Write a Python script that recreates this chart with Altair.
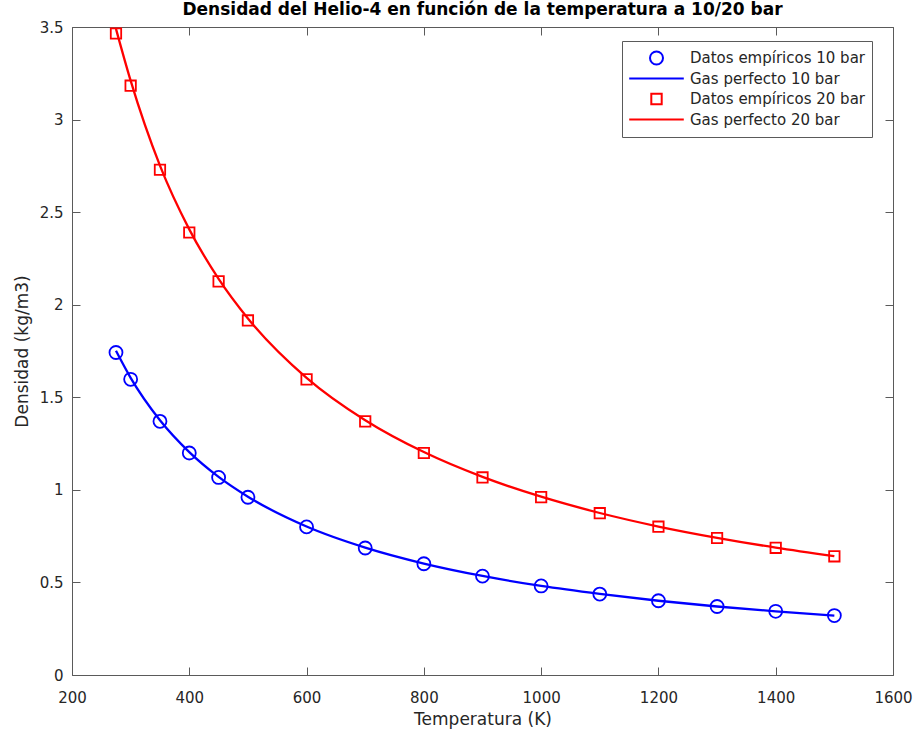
import altair as alt
import pandas as pd

# Temperatura (K) de cada medida
temperatura = [275, 300, 350, 400, 450, 500, 600, 700, 800, 900, 1000, 1100, 1200, 1300, 1400, 1500]

# Densidad medida (kg/m3)
emp_10 = [1.742, 1.597, 1.370, 1.199, 1.067, 0.960, 0.800, 0.686, 0.601, 0.534, 0.481, 0.437, 0.401, 0.370, 0.344, 0.321]
emp_20 = [3.465, 3.183, 2.729, 2.390, 2.126, 1.915, 1.597, 1.370, 1.199, 1.067, 0.961, 0.874, 0.801, 0.740, 0.687, 0.641]

# Densidad del gas perfecto (kg/m3)
gas_10 = [1.751, 1.605, 1.376, 1.204, 1.070, 0.963, 0.802, 0.688, 0.602, 0.535, 0.481, 0.438, 0.401, 0.370, 0.344, 0.321]
gas_20 = [3.490, 3.210, 2.751, 2.407, 2.140, 1.926, 1.605, 1.376, 1.204, 1.070, 0.963, 0.875, 0.802, 0.741, 0.688, 0.642]

series = ["Datos empíricos 10 bar", "Gas perfecto 10 bar",
          "Datos empíricos 20 bar", "Gas perfecto 20 bar"]
colores = ["#0000ff", "#0000ff", "#ff0000", "#ff0000"]

# Símbolos: círculo, tramo de línea, cuadrado (trayectos en unidades del radio)
LINEA = "M-4.2,0L4.2,0"
CUADRADO = "M-0.8,-0.8L0.8,-0.8L0.8,0.8L-0.8,0.8Z"
formas = ["circle", LINEA, CUADRADO, LINEA]

x_ticks = [200, 400, 600, 800, 1000, 1200, 1400, 1600]
y_ticks = [0, 0.5, 1, 1.5, 2, 2.5, 3, 3.5]

n = len(temperatura)
puntos = pd.DataFrame({
    "T": temperatura * 2,
    "rho": emp_10 + emp_20,
    "serie": [series[0]] * n + [series[2]] * n,
})
lineas = pd.DataFrame({
    "T": temperatura * 2,
    "rho": gas_10 + gas_20,
    "serie": [series[1]] * n + [series[3]] * n,
})

FONT = "DejaVu Sans"
AXIS_GRAY = "#5a5a5a"
TEXT = "#262626"

x_scale = alt.Scale(domain=[200, 1600], nice=False, zero=False)
y_scale = alt.Scale(domain=[0, 3.5], nice=False, zero=False)

common = dict(
    grid=False,
    domainColor=AXIS_GRAY,
    domainWidth=1,
    tickColor=AXIS_GRAY,
    tickWidth=1,
    tickSize={"expr": "-8"},
    labelFont=FONT,
    labelFontSize=15,
    labelColor=TEXT,
    titleFont=FONT,
    titleFontSize=17,
    titleFontWeight="normal",
    titleColor=TEXT,
)

leyenda = alt.Legend(
    title=None,
    orient="none",
    legendX=550,
    legendY=14,
    clipHeight=20,
    rowPadding=0.5,
    padding=7,
    strokeColor=AXIS_GRAY,
    fillColor="white",
    labelFont=FONT,
    labelFontSize=15,
    labelColor=TEXT,
    labelOffset=26,
    labelLimit=400,
    symbolOffset=20,
    symbolSize=169,
    symbolStrokeWidth=2,
    symbolOpacity=1,
)

curvas = alt.Chart(lineas).mark_line(
    strokeWidth=2.3, interpolate="monotone", clip=True
).encode(
    x=alt.X("T:Q", scale=x_scale,
            axis=alt.Axis(orient="bottom", values=x_ticks, format="d",
                          title="Temperatura (K)", labelFlush=False,
                          labelPadding=23, titlePadding=6, **common)),
    y=alt.Y("rho:Q", scale=y_scale,
            axis=alt.Axis(orient="left", values=y_ticks, format="~g",
                          title="Densidad (kg/m3)", labelPadding=17,
                          titlePadding=8, **common)),
    color=alt.Color("serie:N",
                    scale=alt.Scale(domain=[series[1], series[3]],
                                    range=[colores[1], colores[3]]),
                    legend=None),
)

marcadores = alt.Chart(puntos).mark_point(
    filled=False, strokeWidth=1.8, opacity=1, size=169
).encode(
    x=alt.X("T:Q", scale=x_scale,
            axis=alt.Axis(orient="top", values=x_ticks, labels=False,
                          title=None, **common)),
    y=alt.Y("rho:Q", scale=y_scale,
            axis=alt.Axis(orient="right", values=y_ticks, labels=False,
                          title=None, **common)),
    color=alt.Color("serie:N", scale=alt.Scale(domain=series, range=colores),
                    legend=leyenda),
    shape=alt.Shape("serie:N", scale=alt.Scale(domain=series, range=formas),
                    legend=leyenda),
)

chart = alt.layer(curvas, marcadores).resolve_scale(
    color="independent", shape="independent"
).properties(
    width=821,
    height=648,
    title=alt.TitleParams(
        "Densidad del Helio-4 en función de la temperatura a 10/20 bar",
        font=FONT, fontSize=17, fontWeight="bold", color="#000000",
        anchor="middle", baseline="alphabetic", offset=4, dy=16,
    ),
    padding={"left": 72, "top": 27, "right": 24, "bottom": 63},
    autosize=alt.AutoSizeParams(type="none"),
).configure_view(stroke=None).configure(font=FONT)

chart.save("out.html", embed_options={"renderer": "svg", "actions": False})
